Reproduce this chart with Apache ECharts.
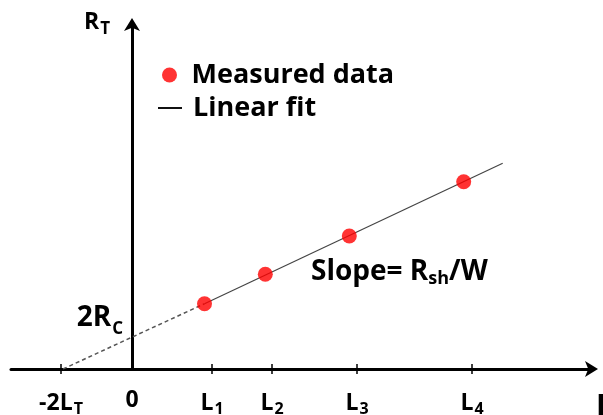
<!DOCTYPE html>
<html>
<head>
<meta charset="utf-8">
<script src="https://cdn.jsdelivr.net/npm/echarts@6/dist/echarts.min.js"></script>
<style>
  html, body { margin: 0; padding: 0; background: #fff; }
  #main { width: 603px; height: 415px; }
</style>
</head>
<body>
<div id="main"></div>
<script>
// tick positions on the L axis and their labels (main part + subscript)
const tickValues = [-7.1, 0, 8, 14, 22.5, 34];
const tickMain = ['-2L', '0', 'L', 'L', 'L', 'L'];
const tickSub = ['T', '', '1', '2', '3', '4'];
const tickMarks = [-7.1, 8, 14, 22.5, 34];

// measured total resistance vs spacing
const measuredL = [7.25, 13.33, 21.73, 33.17];
const measuredR = [6.53, 9.47, 13.3, 18.73];

// linear fit (solid part) and extrapolation back to the axis (dashed)
const fitL = [7.25, 37.07];
const fitR = [6.53, 20.57];
const extrapL = [-6.9, 7.25];
const extrapR = [0, 6.53];

// y intercept = 2Rc
const rcValue = 3.13;

const fontFam = '"Open Sans", "Liberation Sans", sans-serif';
const xMin = -12.1;

let chart = echarts.init(document.getElementById('main'), null, {renderer: 'canvas'});

function pairs(xs, ys) {
    let res = [];
    for (let i = 0; i < xs.length; i++) {
        res.push([xs[i], ys[i]]);
    }
    return res;
}

function tickLabel(value) {
    for (let i = 0; i < tickValues.length; i++) {
        if (Math.abs(tickValues[i] - value) < 1e-6) {
            return tickSub[i] ? '{b|' + tickMain[i] + '}{s|' + tickSub[i] + '}' : '{b|' + tickMain[i] + '}';
        }
    }
    return '';
}

const xRich = {
    b: {fontSize: 23, fontWeight: 'bold', fontFamily: fontFam, color: '#000', verticalAlign: 'middle'},
    s: {fontSize: 16, fontWeight: 'bold', fontFamily: fontFam, color: '#000', verticalAlign: 'middle', padding: [12, 0, 0, 1]}
};

let option = {
    animation: false,
    backgroundColor: '#fff',
    grid: {left: 11, right: 11, top: 24, bottom: 46, containLabel: false, outerBoundsMode: 'none'},
    legend: [{
        orient: 'vertical', left: 162, top: 60, padding: 0, selectedMode: false,
        itemWidth: 24, itemHeight: 15,
        textStyle: {fontSize: 27, fontWeight: 'bold', fontFamily: fontFam, color: '#000', lineHeight: 30, padding: [0, 0, 0, 5]},
        data: [{name: 'Measured data', icon: 'circle'}]
    }, {
        orient: 'vertical', left: 158, top: 84, padding: 0, selectedMode: false,
        itemWidth: 24, itemHeight: 2,
        itemStyle: {color: '#111'},
        textStyle: {fontSize: 27, fontWeight: 'bold', fontFamily: fontFam, color: '#000', lineHeight: 30, padding: [0, 0, 18, 6]},
        data: [{name: 'Linear fit', icon: 'rect'}]
    }],
    xAxis: [{
        type: 'value', min: xMin, max: 46,
        name: 'L', nameLocation: 'end', nameGap: 4,
        nameTextStyle: {fontSize: 30, fontWeight: 'bold', fontFamily: fontFam, color: '#000', align: 'left', verticalAlign: 'top', padding: [23, 0, 0, 0]},
        axisLine: {show: true, onZero: false, symbol: ['none', 'arrow'], symbolSize: [12, 13], symbolOffset: [0, 6], lineStyle: {color: '#000', width: 3}},
        axisTick: {show: true, inside: false, length: 5, customValues: tickMarks, lineStyle: {color: '#000', width: 1.5}},
        axisLabel: {show: true, margin: 20, customValues: tickValues, formatter: tickLabel, rich: xRich},
        splitLine: {show: false}
    }, {
        type: 'value', min: xMin, max: 46, position: 'bottom',
        axisLine: {show: false, onZero: false},
        axisTick: {show: true, inside: true, length: 5, customValues: tickMarks, lineStyle: {color: '#000', width: 1.5}},
        axisLabel: {show: false},
        splitLine: {show: false}
    }],
    yAxis: {
        type: 'value', min: 0, max: 34.5, position: 'left',
        // shift the R axis from the grid edge to L = 0
        offset: xMin * 10,
        name: '{b|R}{s|T}', nameLocation: 'end', nameGap: 2,
        nameTextStyle: {
            align: 'right', verticalAlign: 'middle', padding: [0, 22, 0, 0],
            rich: {
                b: {fontSize: 23, fontWeight: 'bold', fontFamily: fontFam, color: '#000', verticalAlign: 'middle'},
                s: {fontSize: 17, fontWeight: 'bold', fontFamily: fontFam, color: '#000', verticalAlign: 'middle', padding: [15, 0, 0, 1]}
            }
        },
        axisLine: {show: true, onZero: false, symbol: ['none', 'arrow'], symbolSize: [12, 13], symbolOffset: [0, 6], lineStyle: {color: '#000', width: 3}},
        axisTick: {show: false},
        axisLabel: {
            show: true, margin: 9, verticalAlign: 'bottom', customValues: [rcValue],
            formatter: function () { return '{b|2R}{s|C}'; },
            rich: {
                b: {fontSize: 28, fontWeight: 'bold', fontFamily: fontFam, color: '#000', verticalAlign: 'middle'},
                s: {fontSize: 17, fontWeight: 'bold', fontFamily: fontFam, color: '#000', verticalAlign: 'middle', padding: [22, 0, 0, 1]}
            }
        },
        splitLine: {show: false}
    },
    graphic: [{
        type: 'text', left: 311, top: 258, z: 10,
        style: {
            text: '{b|Slope= R}{s|sh}{b|/W}',
            rich: {
                b: {fontSize: 28, fontWeight: 'bold', fontFamily: fontFam, fill: '#000', verticalAlign: 'middle'},
                s: {fontSize: 18, fontWeight: 'bold', fontFamily: fontFam, fill: '#000', verticalAlign: 'middle', padding: [13, 0, 0, 0]}
            }
        }
    }],
    series: [{
        name: 'Extrapolation', type: 'line', data: pairs(extrapL, extrapR),
        symbol: 'none', z: 2, silent: true,
        lineStyle: {color: '#555', width: 1.5, type: [4, 3]}
    }, {
        name: 'Linear fit', type: 'line', data: pairs(fitL, fitR),
        symbol: 'none', z: 2, silent: true,
        itemStyle: {color: '#111'},
        lineStyle: {color: '#444', width: 1.2}
    }, {
        name: 'Measured data', type: 'scatter', data: pairs(measuredL, measuredR),
        symbol: 'circle', symbolSize: 15, z: 5,
        itemStyle: {color: '#ff0000'}
    }]
};

chart.setOption(option);
</script>
</body>
</html>
